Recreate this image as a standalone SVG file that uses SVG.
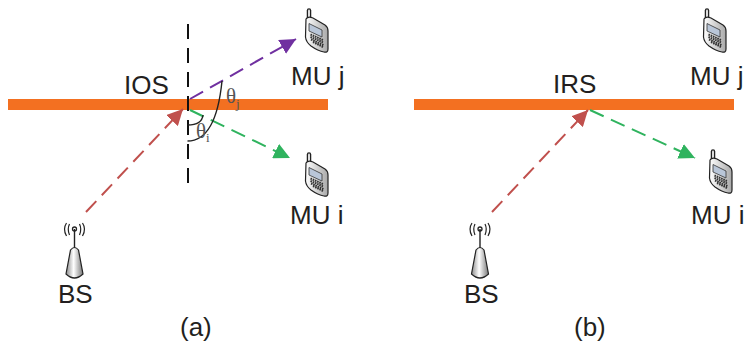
<svg xmlns="http://www.w3.org/2000/svg" width="745" height="344" viewBox="0 0 745 344">
<defs>
<linearGradient id="ph" x1="0" x2="1" y1="0" y2="0"><stop offset="0" stop-color="#fff"/><stop offset="1" stop-color="#a8a8a8"/></linearGradient>
<linearGradient id="tw" x1="0" x2="1" y1="0" y2="0"><stop offset="0" stop-color="#8a8a8a"/><stop offset=".45" stop-color="#fff"/><stop offset="1" stop-color="#777"/></linearGradient>
<g id="phone">
<path d="M-7 -20.500 V-13" fill="none" stroke="#222" stroke-width="4.500" stroke-linecap="round"/>
<path d="M-7 -20.500 V-13" fill="none" stroke="#ddd" stroke-width="2" stroke-linecap="round"/>
<path d="M-10 -12 Q-8 -15 -3 -13 L9 -6 Q12 -4 12 0 L12 18 Q12 22 8 21 Q2 20 -5 15 Q-10 11 -10.500 6 Z" fill="url(#ph)" stroke="#222" stroke-width="1.200"/>
<path d="M-7 -7.500 L6 -1 V6 L-7 0 Z" fill="#b9c6d8" stroke="#333" stroke-width=".8"/>
<path d="M-5.500 3.500 L7 9 M-5.500 6 L7.500 11.500 M-5 8.500 L7.500 14 M-3 11 L7 16" stroke="#333" stroke-width="2" stroke-dasharray="1.600 .8" fill="none"/>
</g>
<g id="tower">
<path d="M0 -17 V2" stroke="#222" stroke-width="1.400"/>
<circle cx="0" cy="-17" r="2" fill="none" stroke="#222" stroke-width="1.300"/>
<path d="M-5 -22 Q-7.500 -17 -5 -11 M5 -22 Q7.500 -17 5 -11 M-8 -23 Q-12 -17 -8 -10 M8 -23 Q12 -17 8 -10" fill="none" stroke="#222" stroke-width="1.200"/>
<path d="M-4 4 Q0 -1 4 4 L8.500 28 Q0 36 -8.500 28 Z" fill="url(#tw)" stroke="#222" stroke-width="1.200"/>
</g>
<marker id="ar" viewBox="0 0 10 10" refX="10" refY="5" markerWidth="16" markerHeight="16" markerUnits="userSpaceOnUse" orient="auto"><path d="M0 0 L10 5 L0 10 Z" fill="#c0504d"/></marker>
<marker id="ap" viewBox="0 0 10 10" refX="10" refY="5" markerWidth="16" markerHeight="16" markerUnits="userSpaceOnUse" orient="auto"><path d="M0 0 L10 5 L0 10 Z" fill="#7030a0"/></marker>
<marker id="ag" viewBox="0 0 10 10" refX="10" refY="5" markerWidth="16" markerHeight="16" markerUnits="userSpaceOnUse" orient="auto"><path d="M0 0 L10 5 L0 10 Z" fill="#2fb35e"/></marker>
</defs>
<style>
text{font-family:"Liberation Sans",Arial,sans-serif;font-size:26px;fill:#231f20}
.gr{font-family:"Liberation Serif",serif;fill:#555;font-size:21px}
.sub{font-family:"Liberation Serif",serif;fill:#555;font-size:13px}
.c{fill:none;stroke-width:2;stroke-dasharray:15 8}
</style>
<rect id="ios-surface" x="8" y="99" width="320" height="11" fill="#f37021"/>
<rect id="irs-surface" x="414" y="99" width="320" height="11" fill="#f37021"/>
<g id="connectors">
<path d="M188 24 V184" fill="none" stroke="#111" stroke-width="2" stroke-dasharray="15 9"/>
<path class="c" d="M86 212 L183 109" stroke="#c0504d" marker-end="url(#ar)"/>
<path class="c" d="M190 99 L296 39" stroke="#7030a0" marker-end="url(#ap)"/>
<path class="c" d="M190 110 L290 158" stroke="#2fb35e" marker-end="url(#ag)"/>
<path class="c" d="M492 212 L588 110" stroke="#c0504d" marker-end="url(#ar)"/>
<path class="c" d="M590 110 L695 158" stroke="#2fb35e" marker-end="url(#ag)"/>
<path d="M187.500 125 Q202 125 203 115" fill="none" stroke="#222" stroke-width="1.400"/>
<path d="M187.500 141 Q216 141 222 81" fill="none" stroke="#222" stroke-width="1.400"/>
</g>
<g id="label-ios"><text x="124" y="94">IOS</text></g>
<g id="label-irs"><text x="553" y="93">IRS</text></g>
<g id="theta-j"><text class="gr" x="226" y="103">θ</text><text class="sub" x="236" y="108">j</text></g>
<g id="theta-i"><text class="gr" x="196" y="138">θ</text><text class="sub" x="206" y="142">i</text></g>
<g id="mu-j-a"><use href="#phone" x="316" y="31"/><text x="291" y="85">MU j</text></g>
<g id="mu-i-a"><use href="#phone" x="316" y="175"/><text x="290" y="224">MU i</text></g>
<g id="mu-j-b"><use href="#phone" x="714" y="31"/><text x="690" y="85">MU j</text></g>
<g id="mu-i-b"><use href="#phone" x="720" y="172"/><text x="691" y="224">MU i</text></g>
<g id="bs-a"><use href="#tower" x="74.500" y="246"/><text x="58" y="303">BS</text></g>
<g id="bs-b"><use href="#tower" x="480" y="246"/><text x="464" y="303">BS</text></g>
<g id="caption-a"><text x="180" y="336">(a)</text></g>
<g id="caption-b"><text x="574" y="336">(b)</text></g>
</svg>
